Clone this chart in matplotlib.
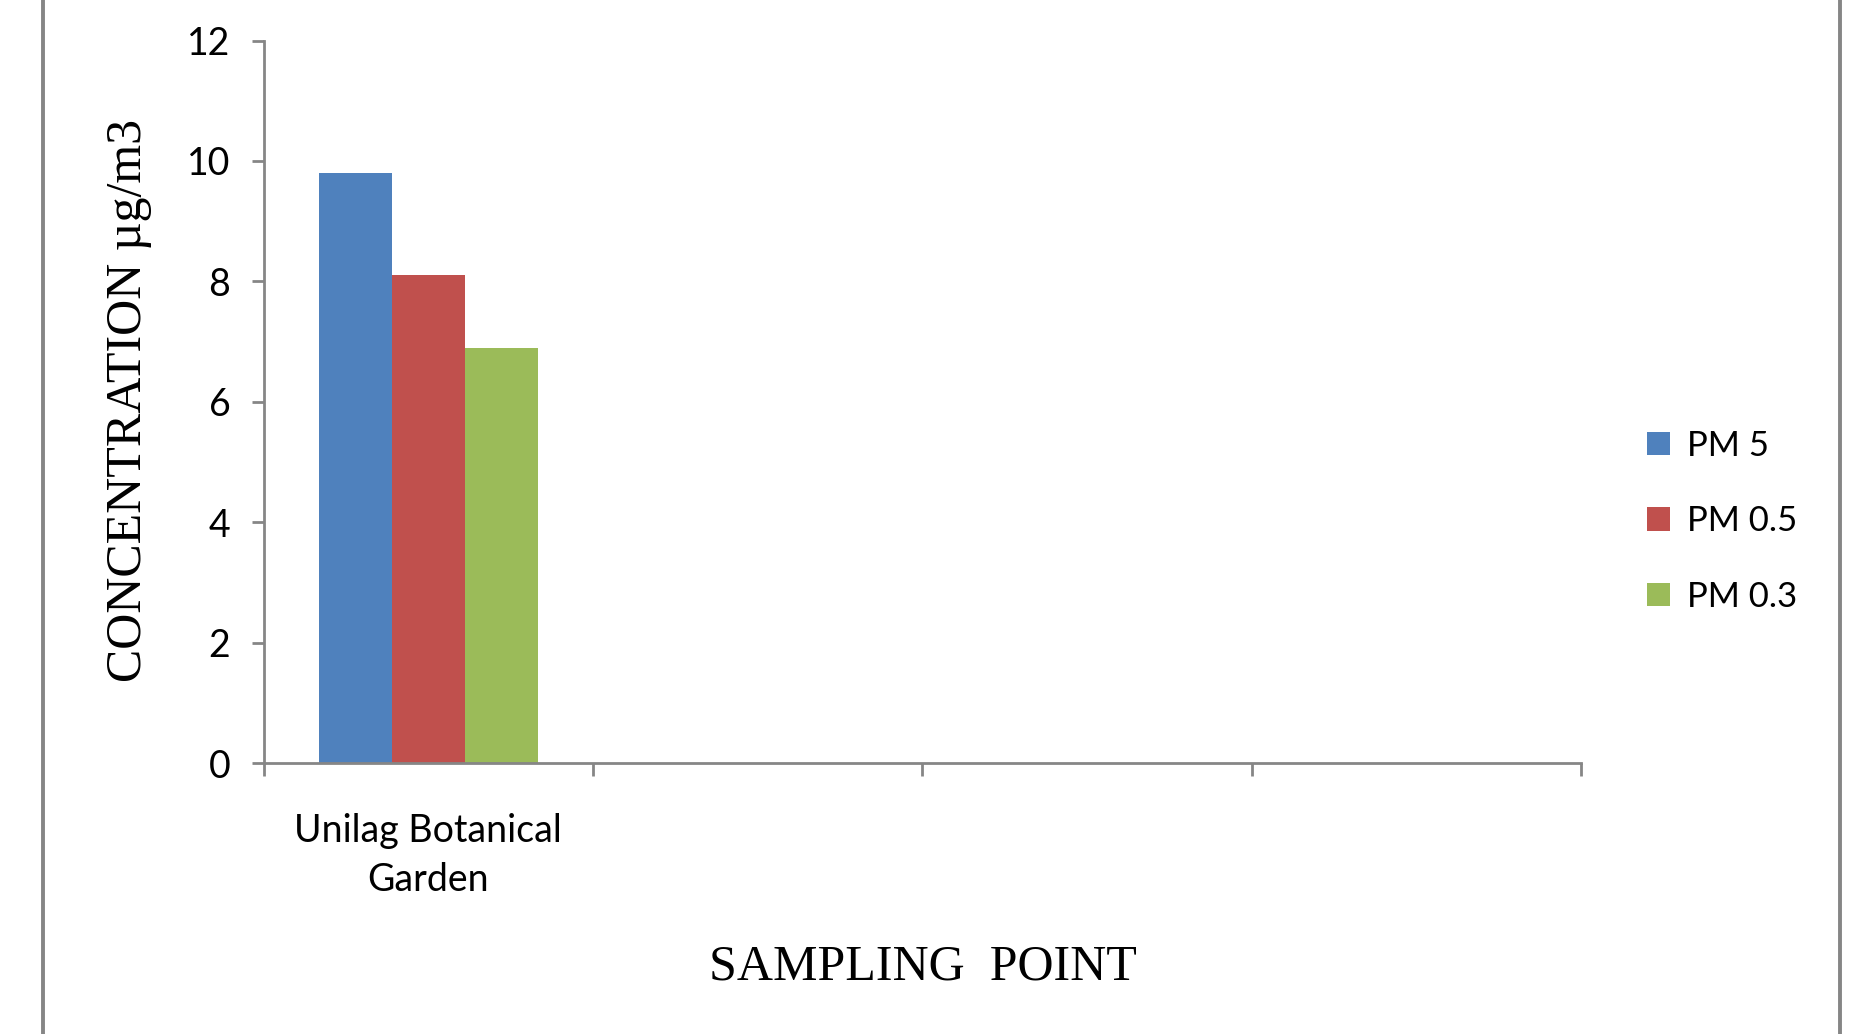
import numpy as np
import matplotlib
matplotlib.use('Agg')
from matplotlib import pyplot as plt
from matplotlib.lines import Line2D


categories = ['Unilag Botanical\nGarden', '', '', '']
series = ['PM 5', 'PM 0.5', 'PM 0.3']
values = {
	'PM 5': [9.8],
	'PM 0.5': [8.1],
	'PM 0.3': [6.9],
}
colors = ['#4F81BD', '#C0504D', '#9BBB59']
yticks = [0, 2, 4, 6, 8, 10, 12]

sans = 'Lato'
serif = 'Liberation Serif'
grey = '#868686'

fig = plt.figure(figsize=(18.7, 10.34), dpi=100)
ax = fig.add_axes([0.141, 0.262, 0.7045, 0.6988])

bw = 0.221
for i, (name, col) in enumerate(zip(series, colors)):
	v = values[name]
	x = np.arange(len(v)) + (i - 1)*bw
	ax.bar(x, v, width=bw, color=col, label=name, zorder=2)

ax.set_xlim(-0.5, len(categories) - 0.5)
ax.set_ylim(yticks[0], yticks[-1])
ax.set_yticks(yticks)
ax.set_yticklabels([str(t) for t in yticks], fontsize=27, family=sans)

# ticks at category boundaries, labels at centres
ax.set_xticks(np.arange(len(categories) + 1) - 0.5)
ax.set_xticklabels([])
ax.set_xticks(np.arange(len(categories)), minor=True)
ax.set_xticklabels(categories, minor=True, fontsize=27, family=sans, linespacing=1.45)
ax.tick_params(axis='x', which='minor', length=0, pad=36)
ax.tick_params(axis='x', which='major', length=9, width=2, color=grey, direction='out')
ax.tick_params(axis='y', length=9, width=2, color=grey, direction='out', pad=15)

for s in ['top', 'right']:
	ax.spines[s].set_visible(False)
for s in ['left', 'bottom']:
	ax.spines[s].set_color(grey)
	ax.spines[s].set_linewidth(2)

fig.text(0.069, 0.6125, 'CONCENTRATION µg/m3', rotation=90, ha='center', va='center',
	fontsize=36, family=serif)
fig.text(0.4935, 0.065, 'SAMPLING  POINT', ha='center', va='center',
	fontsize=36, family=serif)

fig.legend(loc='center left', bbox_to_anchor=(0.8735, 0.496), frameon=False,
	prop={'family': sans, 'size': 25}, handlelength=0.65, handleheight=0.65,
	handletextpad=0.5, labelspacing=1.25, borderaxespad=0)

for xf in [0.023, 0.984]:
	fig.add_artist(Line2D([xf, xf], [0, 1], transform=fig.transFigure, color=grey, lw=2.8))

fig.savefig('out.png', dpi=100)
